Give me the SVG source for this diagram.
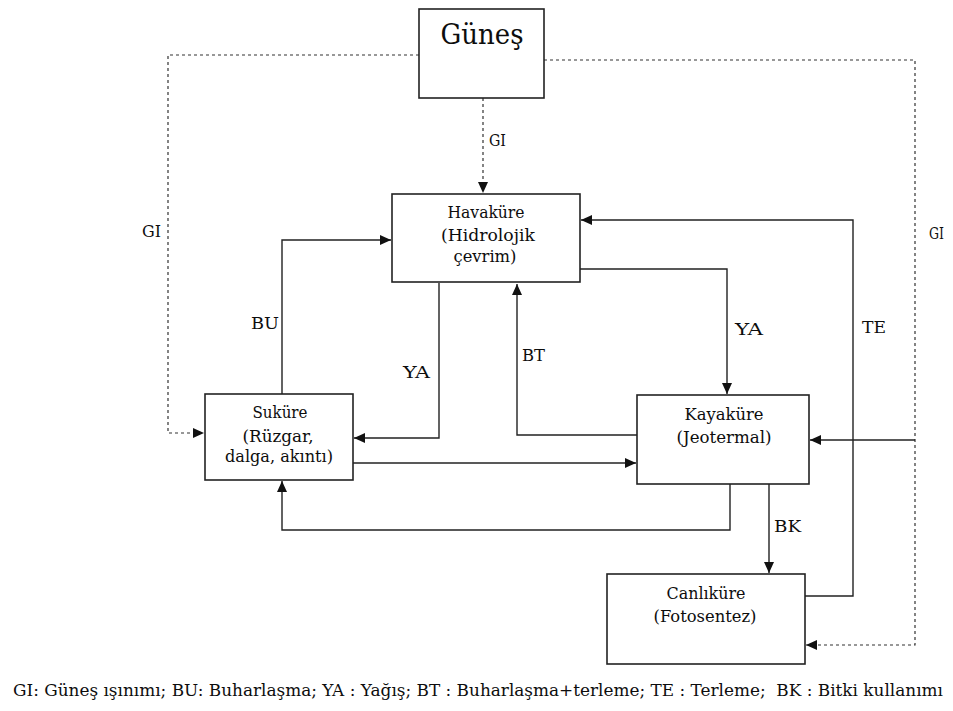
<svg xmlns="http://www.w3.org/2000/svg" width="953" height="711" viewBox="0 0 953 711">
<style>
.box{fill:#fff;stroke:#222;stroke-width:1.6}
.t{font-family:'DejaVu Serif','Liberation Serif',serif;fill:#0d0d0d;font-size:16px}
.tc{text-anchor:middle}
.ln{fill:none;stroke:#222;stroke-width:1.4}
.ds{fill:none;stroke:#333;stroke-width:1.2;stroke-dasharray:3 3}
</style>
<defs>
<marker id="ah" markerUnits="userSpaceOnUse" markerWidth="12" markerHeight="12" refX="11" refY="5" orient="auto" viewBox="0 0 12 10">
<path d="M0,0 L11,5 L0,10 z" fill="#111"/>
</marker>
</defs>
<rect width="953" height="711" fill="#fff"/>
<g id="connectors">
<path class="ds" d="M483,98 V193" marker-end="url(#ah)"/>
<path class="ds" d="M419,55 H168 V433 H204" marker-end="url(#ah)"/>
<path class="ds" d="M544,60 H915 V645 H806" marker-end="url(#ah)"/>
<path class="ln" d="M282,394 V240 H391" marker-end="url(#ah)"/>
<path class="ln" d="M439,283 V438 H354" marker-end="url(#ah)"/>
<path class="ln" d="M580,269 H727 V394" marker-end="url(#ah)"/>
<path class="ln" d="M637,435 H517 V284" marker-end="url(#ah)"/>
<path class="ln" d="M353,463 H636" marker-end="url(#ah)"/>
<path class="ln" d="M730,484 V530 H282 V481" marker-end="url(#ah)"/>
<path class="ln" d="M769,484 V573" marker-end="url(#ah)"/>
<path class="ln" d="M805,596 H853 V220 H581" marker-end="url(#ah)"/>
<path class="ln" d="M915,440 H810" marker-end="url(#ah)"/>
<text class="t" x="489" y="146" textLength="17" lengthAdjust="spacingAndGlyphs">GI</text>
<text class="t" x="142" y="237" textLength="19" lengthAdjust="spacingAndGlyphs">GI</text>
<text class="t" x="929" y="239" textLength="15" lengthAdjust="spacingAndGlyphs">GI</text>
<text class="t" x="251" y="329" textLength="28" lengthAdjust="spacingAndGlyphs">BU</text>
<text class="t" x="403" y="378" textLength="27" lengthAdjust="spacingAndGlyphs">YA</text>
<text class="t" x="522" y="361" textLength="23" lengthAdjust="spacingAndGlyphs">BT</text>
<text class="t" x="735" y="335" textLength="28" lengthAdjust="spacingAndGlyphs">YA</text>
<text class="t" x="862" y="333" textLength="24" lengthAdjust="spacingAndGlyphs">TE</text>
<text class="t" x="774" y="532" textLength="27" lengthAdjust="spacingAndGlyphs">BK</text>
</g>
<g id="gunes">
<rect class="box" x="419" y="9" width="125" height="89"/>
<text class="t tc" x="482" y="44" style="font-size:27px" textLength="83" lengthAdjust="spacingAndGlyphs">Güneş</text>
</g>
<g id="havakure">
<rect class="box" x="392" y="194" width="188" height="88"/>
<text class="t tc" x="486" y="218" textLength="77" lengthAdjust="spacingAndGlyphs">Havaküre</text>
<text class="t tc" x="488" y="241" textLength="94" lengthAdjust="spacingAndGlyphs">(Hidrolojik</text>
<text class="t tc" x="485" y="262" textLength="63" lengthAdjust="spacingAndGlyphs">çevrim)</text>
</g>
<g id="sukure">
<rect class="box" x="205" y="394" width="148" height="86"/>
<text class="t tc" x="280" y="418" textLength="55" lengthAdjust="spacingAndGlyphs">Suküre</text>
<text class="t tc" x="278" y="442" textLength="71" lengthAdjust="spacingAndGlyphs">(Rüzgar,</text>
<text class="t tc" x="279" y="462" textLength="108" lengthAdjust="spacingAndGlyphs">dalga, akıntı)</text>
</g>
<g id="kayakure">
<rect class="box" x="637" y="395" width="172" height="89"/>
<text class="t tc" x="724" y="420" textLength="79" lengthAdjust="spacingAndGlyphs">Kayaküre</text>
<text class="t tc" x="724" y="443" textLength="95" lengthAdjust="spacingAndGlyphs">(Jeotermal)</text>
</g>
<g id="canlikure">
<rect class="box" x="607" y="574" width="198" height="90"/>
<text class="t tc" x="706" y="599" textLength="79" lengthAdjust="spacingAndGlyphs">Canlıküre</text>
<text class="t tc" x="705" y="622" textLength="103" lengthAdjust="spacingAndGlyphs">(Fotosentez)</text>
</g>
<g id="legend">
<text class="t" x="13" y="696" xml:space="preserve" textLength="930" lengthAdjust="spacingAndGlyphs">GI: Güneş ışınımı; BU: Buharlaşma; YA : Yağış; BT : Buharlaşma+terleme; TE : Terleme;  BK : Bitki kullanımı</text>
</g>
</svg>
